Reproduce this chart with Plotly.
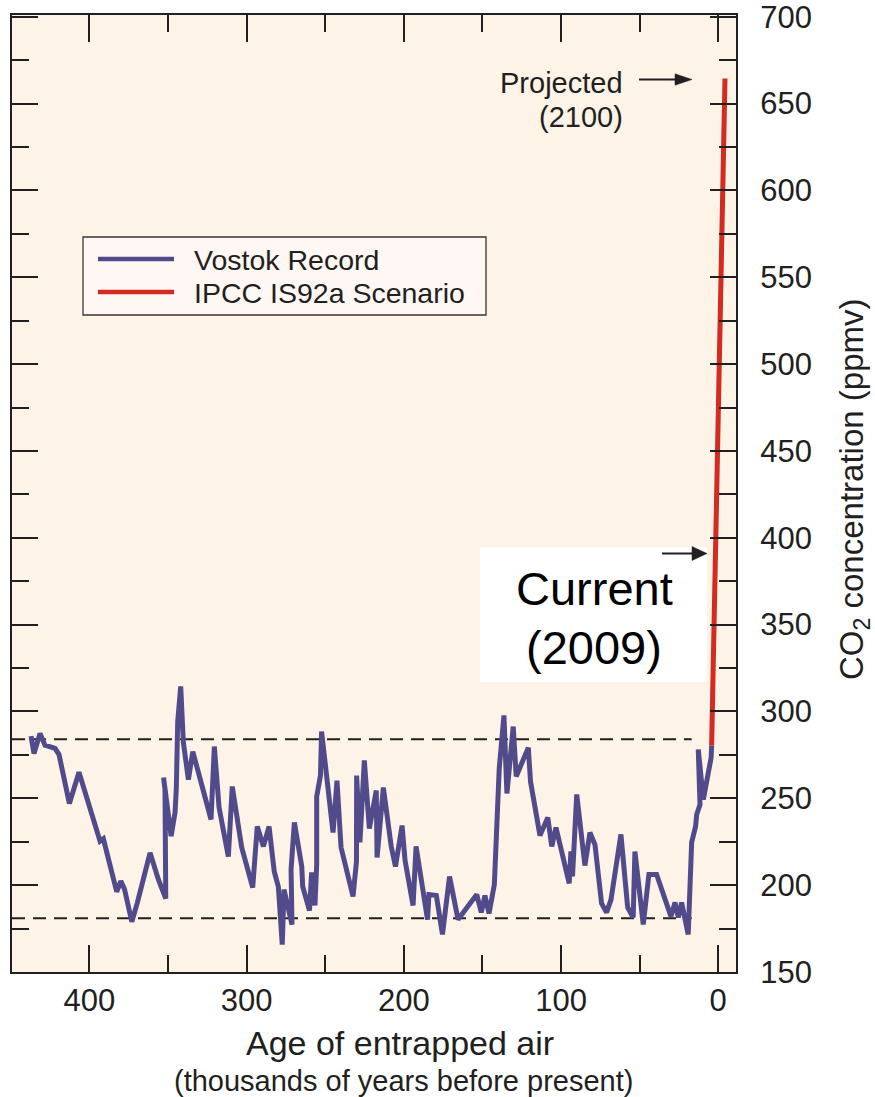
import plotly.graph_objects as go

# ---------------- data ----------------
# Vostok ice-core CO2 record: age of entrapped air (kyr BP) and CO2 (ppmv)
vostok_age_kyr = [
    437.1, 435.2, 431.4, 428.2, 421.8, 419.3, 412.7, 406.6, 393.2, 391.1,
    382.6, 380.0, 377.7, 373.0, 369.5, 364.6, 361.4, 356.1, 351.4, 351.9,
    352.8, 348.0, 345.5, 344.7, 343.8, 341.9, 340.2, 337.0, 334.2, 322.6,
    320.5, 317.5, 311.6, 309.1, 303.1, 296.1, 293.2, 289.3, 285.7, 283.0,
    282.4, 279.8, 277.3, 276.2, 271.1, 271.7, 269.6, 264.9, 264.3, 260.0,
    258.6, 256.5, 255.4, 255.4, 253.0, 252.3, 250.1, 245.0, 242.5, 241.2,
    239.9, 232.3, 230.1, 230.0, 227.9, 225.1, 221.9, 217.5, 217.0, 213.0,
    210.7, 208.0, 205.3, 201.1, 199.2, 194.1, 192.2, 184.9, 184.0, 179.3,
    175.4, 170.9, 165.5, 153.6, 150.7, 148.4, 145.8, 142.4, 139.3, 136.3,
    134.4, 130.4, 128.5, 120.8, 119.4, 113.4, 108.4, 105.9, 103.2, 94.8,
    93.7, 92.7, 90.0, 84.8, 81.6, 78.4, 74.2, 71.0, 68.2, 61.9,
    57.6, 54.1, 53.0, 47.7, 44.1, 39.2, 30.1, 27.5, 25.4, 23.3,
    19.1, 16.9, 14.4, 13.7, 11.6, 12.7, 9.5, 4.5, 4.2,
]
vostok_co2_ppmv = [
    285.8, 275.8, 287.3, 280.6, 278.7, 275.2, 247.0, 265.0, 225.3, 226.7,
    196.2, 202.3, 197.9, 178.9, 189.8, 208.0, 218.6, 203.3, 192.3, 255.1,
    262.0, 228.2, 241.8, 255.6, 294.2, 314.4, 282.1, 260.8, 276.9, 237.8,
    279.8, 244.7, 216.5, 256.8, 221.7, 198.6, 233.8, 222.3, 233.8, 213.6,
    207.9, 199.2, 165.8, 197.5, 177.3, 209.0, 236.1, 210.7, 199.2, 185.4,
    207.3, 188.3, 211.9, 251.0, 263.1, 288.5, 269.5, 230.3, 260.2, 236.1,
    221.7, 193.5, 213.6, 263.1, 224.6, 271.8, 232.6, 254.5, 215.9, 256.2,
    239.5, 222.3, 210.7, 234.3, 214.2, 188.3, 222.3, 180.2, 194.6, 194.0,
    171.6, 205.0, 180.2, 194.6, 184.3, 194.0, 183.7, 200.4, 267.2, 297.7,
    252.8, 291.3, 262.6, 279.2, 259.7, 228.6, 238.9, 222.3, 233.2, 201.0,
    219.4, 205.0, 252.2, 211.3, 230.3, 223.4, 189.4, 184.3, 191.7, 229.2,
    187.1, 181.4, 219.4, 177.3, 206.1, 206.1, 182.0, 190.0, 181.4, 190.0,
    171.6, 224.6, 233.8, 240.7, 246.4, 278.1, 249.3, 273.5, 280.4,
]

# IPCC IS92a scenario: from the pre-industrial level to the 2100 projection
ipcc_age_kyr = [4.2, -4.3]
ipcc_co2_ppmv = [280.4, 664.4]

# glacial / interglacial reference levels (dashed)
reference_levels_ppmv = [284, 181]
reference_span_kyr = [449.2, 16.9]

x_tick_values = [400, 300, 200, 100, 0]
y_tick_values = [150, 200, 250, 300, 350, 400, 450, 500, 550, 600, 650, 700]

series_names = ["Vostok Record", "IPCC IS92a Scenario"]

# ---------------- styling ----------------
INK = "#231F20"
PURPLE = "#514B8C"
RED = "#D42A1F"
CREAM = "#FDF4E7"
FONT = "Liberation Sans, Arial, Helvetica, sans-serif"

W, H = 875, 1097
M = dict(l=12, r=139, t=15, b=125)
PW = W - M["l"] - M["r"]
PH = H - M["t"] - M["b"]


def px(x):
    """page x (pixels) -> paper coordinate"""
    return (x - M["l"]) / PW


def py(y):
    """page y (pixels, from top) -> paper coordinate"""
    return (H - M["b"] - y) / PH


fig = go.Figure()

fig.add_trace(go.Scatter(
    x=vostok_age_kyr, y=vostok_co2_ppmv, mode="lines",
    line=dict(color=PURPLE, width=5), name=series_names[0], showlegend=False,
))
fig.add_trace(go.Scatter(
    x=ipcc_age_kyr, y=ipcc_co2_ppmv, mode="lines",
    line=dict(color=RED, width=5), name=series_names[1], showlegend=False,
))

shapes = []
# dashed reference levels
for lvl in reference_levels_ppmv:
    shapes.append(dict(
        type="line", xref="x", yref="y",
        x0=reference_span_kyr[0], x1=reference_span_kyr[1], y0=lvl, y1=lvl,
        line=dict(color=INK, width=2, dash="13px,8px"), layer="below",
    ))

# white panel behind the "Current (2009)" label
shapes.append(dict(
    type="rect", xref="paper", yref="paper",
    x0=px(480), x1=px(707), y0=py(682), y1=py(547),
    fillcolor="white", line=dict(width=0), layer="below",
))

# legend box with line samples
shapes.append(dict(
    type="rect", xref="paper", yref="paper",
    x0=px(83), x1=px(486), y0=py(315), y1=py(237),
    fillcolor="#FEF7F4", line=dict(color="#3A3536", width=1.3), layer="above",
))
for yy, col in [(259, PURPLE), (292, RED)]:
    shapes.append(dict(
        type="line", xref="paper", yref="paper",
        x0=px(98), x1=px(174), y0=py(yy), y1=py(yy),
        line=dict(color=col, width=4.5), layer="above",
    ))


def arrow(x0, x1, head, y, half):
    """horizontal arrow pointing right: shaft + filled head"""
    out = [dict(
        type="line", xref="paper", yref="paper",
        x0=px(x0), x1=px(x1 - head + 2), y0=py(y), y1=py(y),
        line=dict(color=INK, width=2), layer="above",
    )]
    path = "M {a},{b} L {c},{d} L {e},{f} Z".format(
        a=px(x1 - head), b=py(y - half),
        c=px(x1), d=py(y),
        e=px(x1 - head), f=py(y + half),
    )
    out.append(dict(
        type="path", xref="paper", yref="paper", path=path,
        fillcolor=INK, line=dict(color=INK, width=0.5), layer="above",
    ))
    return out


shapes += arrow(639, 692, 17, 79.5, 5.7)
shapes += arrow(662, 707, 15, 553.5, 7)

annotations = [
    dict(text="Projected", x=px(625), y=py(83), xanchor="right", yanchor="middle",
         font=dict(size=29, color=INK, family=FONT)),
    dict(text="(2100)", x=px(625), y=py(117), xanchor="right", yanchor="middle",
         font=dict(size=29, color=INK, family=FONT)),
    dict(text="Current", x=px(594), y=py(588), xanchor="center", yanchor="middle",
         font=dict(size=47, color="black", family=FONT)),
    dict(text="(2009)", x=px(594), y=py(647), xanchor="center", yanchor="middle",
         font=dict(size=47, color="black", family=FONT)),
    dict(text=series_names[0], x=px(192), y=py(260), xanchor="left", yanchor="middle",
         font=dict(size=28.5, color=INK, family=FONT)),
    dict(text=series_names[1], x=px(192), y=py(293), xanchor="left", yanchor="middle",
         font=dict(size=28.5, color=INK, family=FONT)),
    dict(text="Age of entrapped air", x=px(400), y=py(1043), xanchor="center", yanchor="middle",
         font=dict(size=34, color=INK, family=FONT)),
    dict(text="(thousands of years before present)", x=px(403), y=py(1081),
         xanchor="center", yanchor="middle",
         font=dict(size=29, color=INK, family=FONT)),
    dict(text="CO<sub>2</sub> concentration (ppmv)", x=px(854), y=py(490),
         xanchor="center", yanchor="middle", textangle=-90,
         font=dict(size=33, color=INK, family=FONT)),
]
for a in annotations:
    a.update(xref="paper", yref="paper", showarrow=False)

fig.update_layout(
    width=W, height=H, margin=dict(M, autoexpand=False),
    paper_bgcolor="white", plot_bgcolor=CREAM,
    font=dict(family=FONT, color=INK),
    shapes=shapes, annotations=annotations,
    showlegend=False,
    xaxis=dict(
        range=[449.2, -11.3], tickmode="array", tickvals=x_tick_values,
        ticks="inside", ticklen=27, tickwidth=2, tickcolor=INK,
        showline=True, linewidth=2, linecolor=INK, mirror="ticks",
        minor=dict(dtick=50, tick0=0, ticks="inside", ticklen=17, tickwidth=2, tickcolor=INK),
        showgrid=False, zeroline=False, automargin=False,
        tickfont=dict(size=31, color=INK, family=FONT), ticklabelstandoff=0,
        ticklabeloverflow="allow",
    ),
    yaxis=dict(
        range=[150, 701], side="right", tickmode="array", tickvals=y_tick_values,
        ticks="inside", ticklen=26, tickwidth=2, tickcolor=INK,
        showline=True, linewidth=2, linecolor=INK, mirror="ticks",
        minor=dict(dtick=25, tick0=0, ticks="inside", ticklen=17, tickwidth=2, tickcolor=INK),
        showgrid=False, zeroline=False, automargin=False,
        tickfont=dict(size=31, color=INK, family=FONT), ticklabelstandoff=16,
        ticklabeloverflow="allow",
    ),
)

fig.write_html("out.html")
